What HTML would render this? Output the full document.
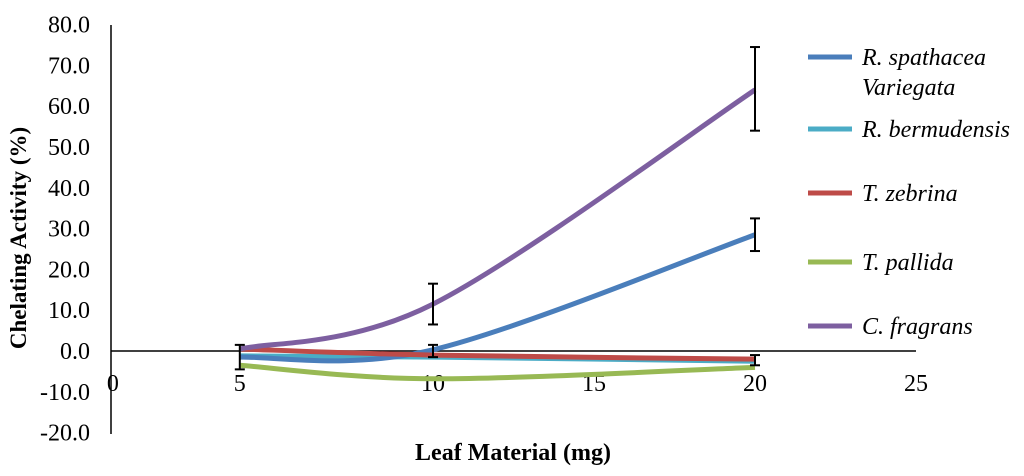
<!DOCTYPE html>
<html><head><meta charset="utf-8"><style>
body{margin:0;background:#fff;width:1024px;height:471px;overflow:hidden}
svg text{font-family:"Liberation Serif",serif}
</style></head><body>
<svg id="chart" width="1024" height="471" xmlns="http://www.w3.org/2000/svg"></svg>
<script>
const xValues=[4,10,20];
const seriesNames=["R. spathacea Variegata","R. bermudensis","T. zebrina","T. pallida","C. fragrans"];
const seriesColors=["#4a7ebb","#4bacc6","#be4b48","#98b954","#7d5fa0"];
const sSpathacea=[-1.5,0.3,28.5];
const sBermudensis=[-1.2,-1.5,-2.5];
const sZebrina=[0.5,-1,-2];
const sPallida=[-3.5,-6.8,-4];
const sFragrans=[0.5,11.5,64];
const errBars=[{x:4,lo:-4.5,hi:1.5},{x:10,lo:-1.5,hi:1.5},{x:10,lo:6.5,hi:16.5},{x:20,lo:24.5,hi:32.5},{x:20,lo:54,hi:74.5},{x:20,lo:-3.5,hi:-1}];
const yTicks=[-20,-10,0,10,20,30,40,50,60,70,80];
const xTickVals=[0.06,4,10,15,20,25];
const xTickLabels=["0","5","10","15","20","25"];
const NS="http://www.w3.org/2000/svg";
const svg=document.getElementById('chart');
const X=v=>111+v*32.2;
const Y=v=>351-v*4.08;
function mk(t,a,p){const e=document.createElementNS(NS,t);for(const k in a)e.setAttribute(k,a[k]);(p||svg).appendChild(e);return e;}
const ya=mk('line',{x1:111,y1:25,x2:111,y2:434,stroke:'#000','stroke-width':1.5});

const xa=mk('line',{x1:111,y1:Y(0),x2:916,y2:Y(0),stroke:'#000','stroke-width':1.5});

yTicks.forEach(v=>{
  const t=mk('text',{x:90,y:Y(v)+8,'text-anchor':'end','font-size':24});t.textContent=v.toFixed(1);
  
});
xTickVals.forEach((v,i)=>{
  const t=mk('text',{x:X(v),y:Y(0)+40,'text-anchor':'middle','font-size':24});t.textContent=xTickLabels[i];
  
});
function smooth(pts){
  let d=`M${pts[0][0]},${pts[0][1]}`;
  for(let i=0;i<pts.length-1;i++){
    const p0=pts[i-1]||pts[i],p1=pts[i],p2=pts[i+1],p3=pts[i+2]||p2;
    const c1=[p1[0]+(p2[0]-p0[0])/6,p1[1]+(p2[1]-p0[1])/6];
    const c2=[p2[0]-(p3[0]-p1[0])/6,p2[1]-(p3[1]-p1[1])/6];
    d+=` C${c1[0]},${c1[1]} ${c2[0]},${c2[1]} ${p2[0]},${p2[1]}`;
  }
  return d;
}
const allSeries=[sSpathacea,sBermudensis,sZebrina,sPallida,sFragrans];
const order=[3,1,0,2,4];
order.forEach(i=>{
  const p=mk('path',{d:smooth(xValues.map((x,j)=>[X(x),Y(allSeries[i][j])])),fill:'none',stroke:seriesColors[i],'stroke-width':5});
  
});
errBars.forEach(e=>{
  const g=mk('g',{stroke:'#000','stroke-width':2});
  
  const x=X(e.x);
  mk('line',{x1:x,y1:Y(e.lo),x2:x,y2:Y(e.hi)},g);
  mk('line',{x1:x-5,y1:Y(e.lo),x2:x+5,y2:Y(e.lo)},g);
  mk('line',{x1:x-5,y1:Y(e.hi),x2:x+5,y2:Y(e.hi)},g);
});
const legY=[57,129,193,262,326];
seriesNames.forEach((n,i)=>{
  const l=mk('line',{x1:808,y1:legY[i],x2:852,y2:legY[i],stroke:seriesColors[i],'stroke-width':5});
  
  const t=mk('text',{x:862,y:legY[i]+8,'font-size':24,'font-style':'italic'});
  
  if(i===0){t.textContent='R. spathacea';const t2=mk('text',{x:862,y:legY[i]+38,'font-size':24,'font-style':'italic'});t2.textContent='Variegata';}
  else t.textContent=n;
});
const xt=mk('text',{x:513,y:460,'text-anchor':'middle','font-size':24,'font-weight':'bold'});xt.textContent='Leaf Material (mg)';

const yt=mk('text',{x:0,y:0,'text-anchor':'middle','font-size':23,'font-weight':'bold',transform:'translate(26,238) rotate(-90)'});yt.textContent='Chelating Activity (%)';

</script>
</body></html>
